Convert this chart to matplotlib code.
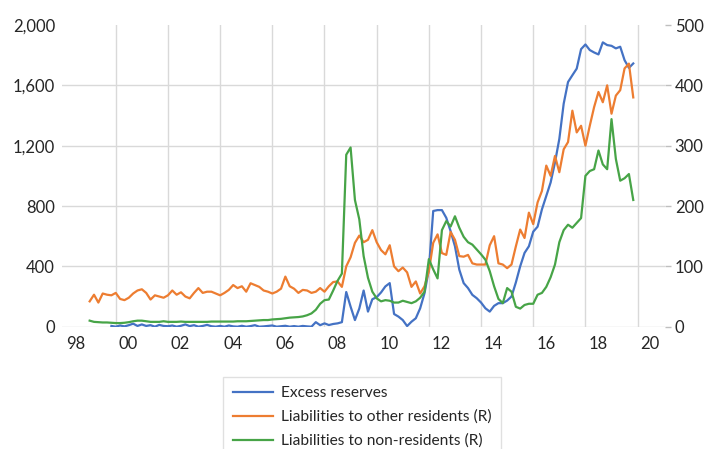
import numpy as np
import pandas as pd
import matplotlib
matplotlib.use('Agg')
import matplotlib.pyplot as plt

# bimonthly observations, Jan 1999 .. Nov 2019 (six values per year)
dates = pd.date_range('1999-01-01', periods=126, freq='2MS')

# Excess reserves (left axis)
excess_reserves = [
    np.nan, np.nan, np.nan, np.nan, np.nan, 5,      # 1999
    0, 8, 2, 10, 20, 5,                              # 2000
    15, 5, 10, 0, 12, 5,                             # 2001
    3, 8, 0, 6, 15, 4,                               # 2002
    10, 0, 5, 12, 3, 0,                              # 2003
    5, 0, 8, 2, 0, 6,                                # 2004
    0, 4, 10, 0, 2, 5,                               # 2005
    8, 0, 3, 6, 0, 4,                                # 2006
    0, 5, 2, 0, 30, 10,                              # 2007
    22, 11, 18, 22, 30, 230,                         # 2008
    133, 44, 120, 240, 100, 182,                     # 2009
    196, 227, 267, 289, 84, 67,                      # 2010
    44, 4, 33, 56, 122, 222,                         # 2011
    380, 767, 773, 773, 722, 633,                    # 2012
    533, 378, 289, 256, 211, 189,                    # 2013
    160, 122, 100, 138, 156, 156,                    # 2014
    173, 200, 293, 400, 489, 533,                    # 2015
    630, 663, 778, 867, 956, 1089,                   # 2016
    1245, 1478, 1622, 1667, 1711, 1840,              # 2017
    1871, 1834, 1818, 1805, 1885, 1867,              # 2018
    1862, 1845, 1856, 1767, 1716, 1745,              # 2019
]

# Liabilities to other residents (right axis)
other_residents = [
    42, 53, 40, 55, 53, 52,
    56, 46, 44, 48, 55, 60,
    62, 56, 45, 52, 50, 48,
    52, 60, 53, 57, 50, 47,
    56, 64, 56, 58, 58, 55,
    52, 56, 61, 69, 64, 67,
    58, 72, 69, 66, 60, 58,
    55, 58, 63, 83, 67, 63,
    56, 61, 60, 56, 58, 64,
    58, 67, 74, 75, 66, 100,
    115, 139, 151, 140, 144, 160,
    140, 127, 120, 135, 100, 92,
    98, 90, 66, 75, 55, 67,
    92, 139, 153, 122, 119, 157,
    144, 117, 116, 119, 105, 103,
    103, 103, 135, 150, 105, 103,
    97, 103, 133, 161, 147, 189,
    170, 206, 225, 267, 250, 283,
    256, 294, 306, 358, 322, 333,
    300, 333, 364, 389, 372, 400,
    353, 383, 392, 428, 436, 380,
]

# Liabilities to non-residents (right axis)
non_residents = [
    10, 8, 7.5, 7, 7, 6.5,
    6, 6, 6.5, 7.5, 9, 10,
    10, 9, 8, 8, 8, 9,
    8, 8, 8, 8.5, 8, 8,
    8, 8, 8, 8, 8.5, 8.5,
    8.5, 8.5, 8.5, 8.5, 9, 9,
    9, 9.5, 10, 10.5, 11, 11,
    12, 12.5, 13, 14, 15, 15.5,
    16, 17, 19, 22, 28, 38,
    44, 45, 60, 76, 88, 285,
    297, 210, 178, 117, 81, 58,
    47, 42, 44, 43, 40, 40,
    43, 41, 39, 42, 48, 58,
    112, 95, 80, 160, 175, 166,
    183, 164, 149, 140, 136, 128,
    120, 111, 92, 67, 46, 39,
    64, 58, 33, 30, 36, 38,
    38, 53, 56, 66, 82, 103,
    140, 160, 169, 164, 172, 180,
    250, 258, 261, 292, 269, 261,
    344, 278, 242, 246, 253, 210,
]

year_labels = ['98', '00', '02', '04', '06', '08', '10', '12', '14', '16', '18', '20']
label_years = [1998, 2000, 2002, 2004, 2006, 2008, 2010, 2012, 2014, 2016, 2018, 2020]
left_ticks = [0, 400, 800, 1200, 1600, 2000]
right_ticks = [0, 100, 200, 300, 400, 500]

BLUE = '#4472C4'
ORANGE = '#ED7D31'
GREEN = '#47A447'
GRID = '#d9d9d9'
TEXT = '#262626'

plt.rcParams['font.family'] = ['Lato', 'DejaVu Sans']

x = dates.year + (dates.month - 1) / 12.0

fig = plt.figure(figsize=(7.07, 4.49), dpi=100)
ax = fig.add_axes([0.0877, 0.2724, 0.8529, 0.6719])
ax2 = ax.twinx()

l1, = ax.plot(x, excess_reserves, color=BLUE, lw=1.6)
l2, = ax2.plot(x, other_residents, color=ORANGE, lw=1.6)
l3, = ax2.plot(x, non_residents, color=GREEN, lw=1.6)

ax.set_xlim(1997.94, 2021.05)
ax.set_ylim(0, 2000)
ax2.set_ylim(0, 500)

# vertical gridlines at the start of even years, labels mid-year
for yr in label_years[1:]:
    ax.axvline(yr, color=GRID, lw=1, zorder=0)
ax.set_xticks([y + 0.48 for y in label_years])
ax.set_xticklabels(year_labels)
ax.tick_params(axis='x', length=0, pad=7, labelsize=12, colors=TEXT)

ax.set_yticks(left_ticks)
ax.set_yticklabels([f'{v:,}' for v in left_ticks])
ax.tick_params(axis='y', length=0, pad=5, labelsize=12, colors=TEXT)
ax.grid(axis='y', color=GRID, lw=1)
ax.set_axisbelow(True)
ax.get_ygridlines()[-1].set_visible(False)

ax2.set_yticks(right_ticks)
ax2.tick_params(axis='y', length=4, width=1, color='#bfbfbf', pad=3,
                labelsize=12, labelcolor=TEXT)

for a in (ax, ax2):
    for s in a.spines.values():
        s.set_visible(False)

leg = fig.legend([l1, l2, l3],
                 ['Excess reserves', 'Liabilities to other residents (R)',
                  'Liabilities to non-residents (R)'],
                 loc='upper left', bbox_to_anchor=(223.3 / 707, 1 - 376.7 / 449),
                 borderaxespad=0, fontsize=11.2, frameon=True, fancybox=False,
                 edgecolor=GRID, handlelength=2.6, handletextpad=0.5,
                 labelspacing=0.62, borderpad=0.6)
leg.get_frame().set_linewidth(1)
for t in leg.get_texts():
    t.set_color(TEXT)

fig.savefig('out.png', dpi=100)
